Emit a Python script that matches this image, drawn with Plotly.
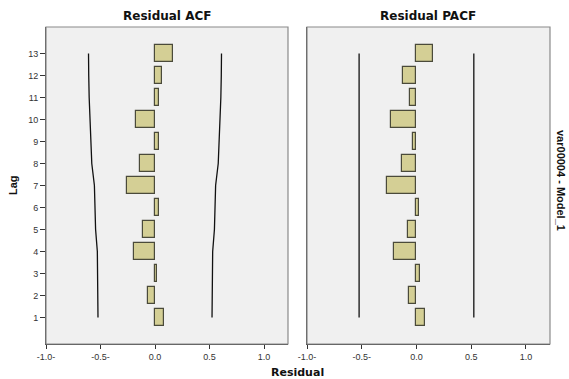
import plotly.graph_objects as go

lags = list(range(1, 14))
acf_vals = [0.080, -0.061, 0.021, -0.190, -0.110, 0.037, -0.254, -0.135, 0.040, -0.177, 0.037, 0.061, 0.165]
acf_upper = [0.523, 0.526, 0.528, 0.529, 0.545, 0.553, 0.556, 0.580, 0.590, 0.594, 0.604, 0.608, 0.610]
acf_lower = [-v for v in acf_upper]
pacf_vals = [0.080, -0.067, 0.028, -0.202, -0.076, 0.024, -0.272, -0.135, -0.034, -0.229, -0.055, -0.119, 0.153]
pacf_upper = [0.524] * 13
pacf_lower = [-0.524] * 13

x_tickvals = [-1.0, -0.5, 0.0, 0.5, 1.0]
x_ticktext = ["-1.0-", "-0.5-", "0.0", "0.5", "1.0"]
panel_titles = ["Residual ACF", "Residual PACF"]

W, H = 569, 379
def px_x(p): return p / W
def px_y(p): return (H - p) / H

bar_fill = "#d4cf95"
bar_line = "#4a4a3a"

fig = go.Figure()

for i, (vals, up, lo) in enumerate([(acf_vals, acf_upper, acf_lower), (pacf_vals, pacf_upper, pacf_lower)]):
    xa = "x" if i == 0 else "x2"
    ya = "y" if i == 0 else "y2"
    fig.add_trace(go.Bar(x=vals, y=lags, orientation="h", width=0.78, base=0,
                         marker=dict(color=bar_fill, line=dict(color=bar_line, width=1.2)),
                         xaxis=xa, yaxis=ya, showlegend=False))
    fig.add_trace(go.Scatter(x=up, y=lags, mode="lines", line=dict(color="#111111", width=1.3),
                             xaxis=xa, yaxis=ya, showlegend=False))
    fig.add_trace(go.Scatter(x=lo, y=lags, mode="lines", line=dict(color="#111111", width=1.3),
                             xaxis=xa, yaxis=ya, showlegend=False))

tickfont = dict(family="Arial, Liberation Sans", size=9, color="#333333")
ydom = [px_y(344), px_y(27)]
xcommon = dict(range=[-1.0, 1.22], tickvals=x_tickvals, ticktext=x_ticktext, ticks="outside",
               ticklen=4, tickcolor="#333", showgrid=False, zeroline=False, showline=True,
               linecolor="#444", linewidth=1, mirror=False, tickfont=tickfont, automargin=False)
ycommon = dict(range=[-0.2, 14.2], tickvals=lags, ticklen=5, tickcolor="#333",
               showgrid=False, zeroline=False, showline=True, linecolor="#444", linewidth=1,
               tickfont=tickfont, automargin=False)

fig.update_layout(
    width=W, height=H, margin=dict(l=0, r=0, t=0, b=0),
    paper_bgcolor="white", plot_bgcolor="#f0f0f0",
    bargap=0,
    xaxis=dict(domain=[px_x(46), px_x(288)], anchor="y", **xcommon),
    yaxis=dict(domain=ydom, anchor="x", showticklabels=True, ticks="outside", **ycommon),
    xaxis2=dict(domain=[px_x(307), px_x(550)], anchor="y2", **xcommon),
    yaxis2=dict(domain=ydom, anchor="x2", showticklabels=False, ticks="", **ycommon),
)

shapes = []
for (x0, x1) in [(46, 288), (307, 550)]:
    shapes.append(dict(type="rect", xref="paper", yref="paper", x0=px_x(x0), x1=px_x(x1),
                       y0=ydom[0], y1=ydom[1], line=dict(color="#8a8a8a", width=1.2), layer="above"))
fig.update_layout(shapes=shapes)

def font(fam, size):
    return dict(family=fam, size=size, color="#111111")
def ann(text, x, y, f, angle=0):
    return dict(text=text, x=px_x(x), y=px_y(y), xref="paper", yref="paper", xanchor="center",
                yanchor="middle", showarrow=False, textangle=angle, font=f)

wide = "DejaVu Sans"
narrow = "Arial, Liberation Sans"
fig.update_layout(annotations=[
    ann("<b>Residual ACF</b>", 167, 16, font(wide, 12)),
    ann("<b>Residual PACF</b>", 428, 16, font(wide, 12)),
    ann("<b>Lag</b>", 13, 185, font(narrow, 11), -90),
    ann("<b>Residual</b>", 297, 372, font(wide, 11)),
    ann("<b>var00004 - Model_1</b>", 561, 180, font(narrow, 11), 90),
])

fig.write_html("out.html")
